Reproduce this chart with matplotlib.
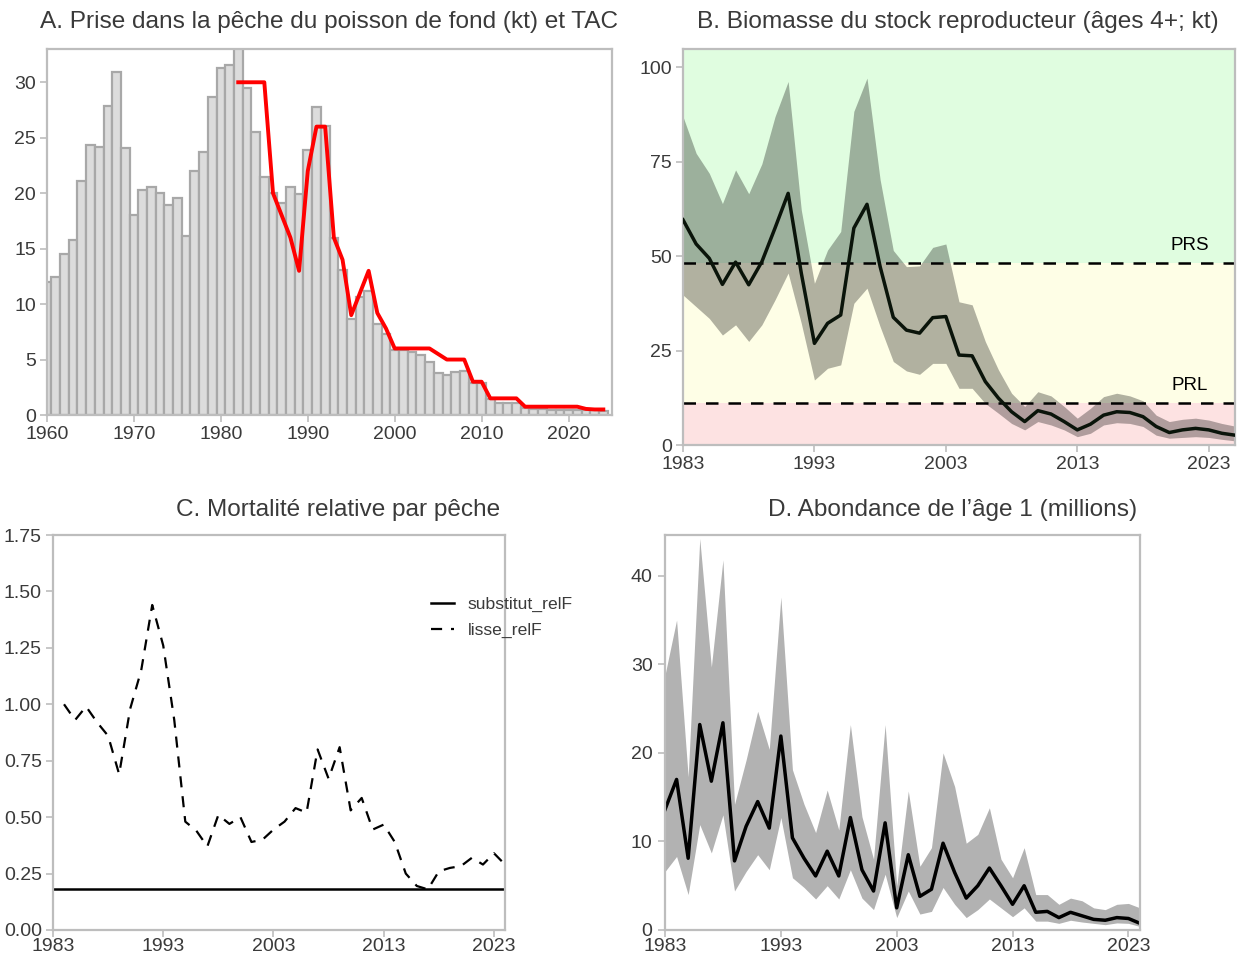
import matplotlib
matplotlib.use("Agg")
import matplotlib.pyplot as plt
import numpy as np

plt.rcParams['font.family'] = ['Liberation Sans', 'DejaVu Sans']

# ---------------- Panel A data ----------------
catch_years = list(range(1960, 2025))
catch_kt = [12.0, 12.4, 14.5, 15.8, 21.1, 24.3, 24.2, 27.9, 30.9, 24.1,
            18.0, 20.3, 20.6, 20.0, 18.9, 19.6, 16.1, 22.0, 23.7, 28.7,
            31.3, 31.6, 35.0, 29.5, 25.5, 21.5, 20.0, 19.1, 20.6, 19.9,
            23.9, 27.8, 26.1, 16.0, 13.1, 8.7, 10.6, 11.2, 8.2, 7.3,
            5.9, 5.9, 5.7, 5.4, 4.8, 3.8, 3.6, 3.9, 4.0, 2.9,
            2.9, 1.4, 1.1, 1.1, 1.1, 0.6, 0.5, 0.5, 0.45, 0.45,
            0.45, 0.45, 0.45, 0.45, 0.4]
tac_years = list(range(1982, 2025))
tac_kt = [30, 30, 30, 30, 20, 18, 16, 13, 22, 26,
          26, 16, 14, 9, 11, 13, 9.2, 7.8, 6, 6,
          6, 6, 6, 5.5, 5, 5, 5, 3, 3, 1.5,
          1.5, 1.5, 1.5, 0.75, 0.75, 0.75, 0.75, 0.75, 0.75, 0.75,
          0.55, 0.5, 0.5]

# ---------------- Panel B data ----------------
ssb_years = list(range(1983, 2026))
ssb = [59.6, 53.2, 49.4, 42.5, 48.4, 42.4, 48.5, 57.4, 66.6, 45.5,
       26.9, 32.2, 34.4, 57.4, 63.7, 47.2, 33.8, 30.4, 29.6, 33.7,
       34.0, 23.8, 23.6, 16.8, 12.4, 8.8, 6.2, 9.1, 8.2, 6.2,
       4.0, 5.5, 7.9, 8.8, 8.6, 7.5, 4.9, 3.3, 4.0, 4.4,
       4.0, 3.1, 2.6]
ssb_upper = [86.9, 77.2, 71.9, 63.9, 72.8, 66.5, 74.4, 86.9, 96.2, 62.2,
             42.8, 51.6, 56.5, 88.3, 97.1, 70.2, 51.5, 47.2, 47.4, 52.3,
             53.2, 37.9, 37.1, 27.4, 19.9, 13.7, 10.2, 14.1, 13.0, 10.2,
             7.1, 9.7, 12.8, 13.7, 13.0, 11.7, 7.9, 6.2, 6.8, 7.1,
             6.6, 5.7, 5.0]
ssb_lower = [39.7, 36.6, 33.5, 29.1, 31.8, 27.4, 31.8, 38.4, 45.5, 32.2,
             17.2, 20.3, 21.2, 37.5, 41.5, 31.3, 22.1, 19.6, 18.7, 21.6,
             21.6, 15.0, 15.0, 11.0, 8.4, 5.7, 4.0, 6.2, 5.3, 4.0,
             2.2, 3.1, 5.3, 5.9, 5.7, 4.9, 2.6, 1.8, 2.0, 2.2,
             2.0, 1.5, 1.1]
PRS = 48.1
PRL = 11.2

# ---------------- Panel C data ----------------
relf_years = list(range(1983, 2025))
substitut_relF = [0.183] * len(relf_years)
lisse_years = list(range(1984, 2025))
lisse_relF = [1.00, 0.93, 0.99, 0.92, 0.86, 0.69, 0.98, 1.15, 1.44, 1.26,
              0.93, 0.48, 0.44, 0.37, 0.51, 0.47, 0.50, 0.39, 0.40, 0.445,
              0.48, 0.54, 0.52, 0.80, 0.67, 0.81, 0.53, 0.585, 0.445, 0.467,
              0.39, 0.25, 0.195, 0.18, 0.26, 0.275, 0.283, 0.32, 0.29, 0.34,
              0.29]

# ---------------- Panel D data ----------------
age1_years = list(range(1983, 2025))
age1 = [13.6, 17.0, 8.1, 23.2, 16.8, 23.4, 7.8, 11.7, 14.5, 11.5,
        21.9, 10.4, 8.1, 6.1, 8.9, 6.1, 12.7, 6.8, 4.4, 12.1,
        2.5, 8.5, 3.8, 4.6, 9.8, 6.5, 3.6, 5.0, 7.0, 5.0,
        2.9, 5.0, 2.0, 2.1, 1.4, 2.0, 1.6, 1.2, 1.1, 1.4,
        1.3, 0.75]
age1_upper = [28.8, 35.0, 17.3, 44.2, 29.7, 41.8, 14.2, 19.2, 24.7, 20.4,
              37.6, 18.1, 14.2, 11.0, 15.8, 11.3, 23.2, 12.8, 8.0, 23.2,
              5.0, 15.7, 7.2, 9.3, 20.0, 16.2, 9.8, 10.8, 13.8, 8.0,
              5.9, 9.3, 4.0, 4.0, 2.9, 3.6, 3.3, 2.5, 2.3, 2.9,
              3.0, 2.5]
age1_lower = [6.6, 8.3, 4.0, 11.9, 8.7, 13.0, 4.4, 6.6, 8.5, 6.8,
              12.7, 5.9, 4.8, 3.5, 5.0, 3.5, 6.8, 3.6, 2.3, 6.3,
              1.4, 4.4, 1.8, 2.1, 4.8, 2.9, 1.4, 2.3, 3.5, 2.5,
              1.5, 2.5, 1.0, 1.0, 0.75, 1.1, 0.9, 0.75, 0.6, 0.8,
              0.75, 0.4]

titles = ["A. Prise dans la pêche du poisson de fond (kt) et TAC",
          "B. Biomasse du stock reproducteur (âges 4+; kt)",
          "C. Mortalité relative par pêche",
          "D. Abondance de l\u2019âge 1 (millions)"]

W, H = 1238, 958
fig = plt.figure(figsize=(W / 100, H / 100), dpi=100)

def add_ax(l, r, t, b):
    return fig.add_axes([l / W, 1 - b / H, (r - l) / W, (b - t) / H])

SPINE = '#bdbdbd'
TXT = '#3a3a3a'

def style(ax, xpad=3.0, ypad=3.0):
    for s in ax.spines.values():
        s.set_color(SPINE)
        s.set_linewidth(1.6)
    ax.tick_params(axis='both', colors=SPINE, labelcolor=TXT, labelsize=14,
                   length=5, width=1.2)
    ax.tick_params(axis='x', pad=xpad)
    ax.tick_params(axis='y', pad=ypad)

axA = add_ax(47, 612, 49, 415)
axB = add_ax(683, 1235, 49, 445)
axC = add_ax(53, 505, 535, 930)
axD = add_ax(665, 1140, 535, 930)

# Panel A
axA.bar(catch_years, catch_kt, width=1.0, color='#dcdcdc', edgecolor='#a8a8a8',
        linewidth=1.6, zorder=2)
axA.plot(tac_years, tac_kt, color='#ff0000', lw=2.8, zorder=3)
axA.set_xlim(1960, 2025)
axA.set_ylim(0, 33)
axA.set_xticks([1960, 1970, 1980, 1990, 2000, 2010, 2020])
axA.set_yticks([0, 5, 10, 15, 20, 25, 30])
style(axA)

# Panel B
axB.axhspan(PRS, 200, color='#e0fde0', lw=0, zorder=0)
axB.axhspan(PRL, PRS, color='#fefee6', lw=0, zorder=0)
axB.axhspan(0, PRL, color='#fde2e2', lw=0, zorder=0)
axB.fill_between(ssb_years, ssb_lower, ssb_upper, color='black', alpha=0.3,
                 lw=0, zorder=1)
axB.plot(ssb_years, ssb, color='#0a140a', lw=2.5, zorder=3)
axB.axhline(PRS, color='black', lw=1.8, ls=(0, (5, 4)), zorder=2)
axB.axhline(PRL, color='black', lw=1.8, ls=(0, (5, 4)), zorder=2)
axB.text(1190 / W, 1 - 245 / H, 'PRS', transform=fig.transFigure, ha='center',
         va='center', fontsize=13.5, color='black')
axB.text(1190 / W, 1 - 385 / H, 'PRL', transform=fig.transFigure, ha='center',
         va='center', fontsize=13.5, color='black')
axB.set_xlim(1983, 2025)
axB.set_ylim(0, 104.8)
axB.set_xticks([1983, 1993, 2003, 2013, 2023])
axB.set_yticks([0, 25, 50, 75, 100])
style(axB)

# Panel C
axC.plot(relf_years, substitut_relF, color='black', lw=1.8, label='substitut_relF')
axC.plot(lisse_years, lisse_relF, color='black', lw=1.6, ls=(0, (5, 4)),
         label='lisse_relF')
axC.set_xlim(1983, 2024)
axC.set_ylim(0, 1.75)
axC.set_xticks([1983, 1993, 2003, 2013, 2023])
axC.set_yticks([0, 0.25, 0.5, 0.75, 1.0, 1.25, 1.5, 1.75])
axC.set_yticklabels(['0.00', '0.25', '0.50', '0.75', '1.00', '1.25', '1.50', '1.75'])
leg = axC.legend(loc='upper left', bbox_to_anchor=(415 / W, 1 - 581 / H),
                 bbox_transform=fig.transFigure, frameon=False, fontsize=12.6,
                 handlelength=1.3, handletextpad=0.8, labelspacing=0.6,
                 labelcolor=TXT)
style(axC, xpad=0.6)

# Panel D
axD.fill_between(age1_years, age1_lower, age1_upper, color='black', alpha=0.3, lw=0)
axD.plot(age1_years, age1, color='black', lw=2.5)
axD.set_xlim(1983, 2024)
axD.set_ylim(0, 44.6)
axD.set_xticks([1983, 1993, 2003, 2013, 2023])
axD.set_yticks([0, 10, 20, 30, 40])
style(axD, xpad=0.6, ypad=4.0)

title_pos = [(329, 22), (958, 22), (338, 510), (953, 510)]
for t, (x, y) in zip(titles, title_pos):
    fig.text(x / W, 1 - y / H, t, ha='center', va='center', fontsize=17.6, color=TXT)

fig.savefig('out.png', dpi=100, facecolor='white')
